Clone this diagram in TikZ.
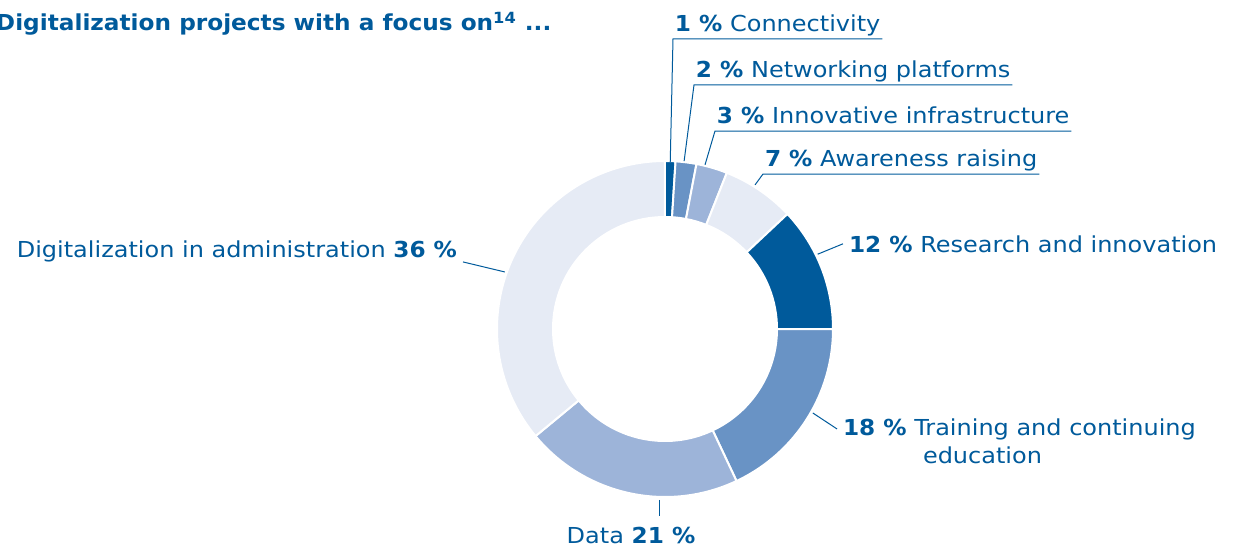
\documentclass[tikz,border=0pt]{standalone}
\usepackage{fontspec}
\setmainfont{DejaVu Sans}[FakeStretch=1.09, BoldFeatures={FakeStretch=1.055}]
\usetikzlibrary{positioning}

\definecolor{txtblue}{HTML}{005A9B}
\definecolor{segdark}{HTML}{005A9B}
\definecolor{segmid}{HTML}{6993C5}
\definecolor{seglight}{HTML}{9DB4D9}
\definecolor{segpale}{HTML}{E6EBF5}

\tikzset{
  seg/.style={draw=white, line width=1pt},
  lbl/.style={text=txtblue, font=\fontsize{11}{13}\selectfont, inner sep=1pt, outer sep=0pt},
  toplbl/.style={lbl, anchor=south west, text depth=2.6pt},
  sidelbl/.style={lbl, inner sep=3pt},
  leader/.style={draw=txtblue, line width=0.5pt},
}

\begin{document}
\begin{tikzpicture}[x=0.5pt, y=0.5pt]
\useasboundingbox (-665,-218) rectangle (572,329);

  % ring
  \fill[segdark, seg] (90:168) arc[start angle=90, end angle=86.4, radius=168] -- (86.4:112) arc[start angle=86.4, end angle=90, radius=112] -- cycle;
  \fill[segmid, seg] (86.4:168) arc[start angle=86.4, end angle=79.2, radius=168] -- (79.2:112) arc[start angle=79.2, end angle=86.4, radius=112] -- cycle;
  \fill[seglight, seg] (79.2:168) arc[start angle=79.2, end angle=68.4, radius=168] -- (68.4:112) arc[start angle=68.4, end angle=79.2, radius=112] -- cycle;
  \fill[segpale, seg] (68.4:168) arc[start angle=68.4, end angle=43.2, radius=168] -- (43.2:112) arc[start angle=43.2, end angle=68.4, radius=112] -- cycle;
  \fill[segdark, seg] (43.2:168) arc[start angle=43.2, end angle=0, radius=168] -- (0:112) arc[start angle=0, end angle=43.2, radius=112] -- cycle;
  \fill[segmid, seg] (0:168) arc[start angle=0, end angle=-64.8, radius=168] -- (-64.8:112) arc[start angle=-64.8, end angle=0, radius=112] -- cycle;
  \fill[seglight, seg] (-64.8:168) arc[start angle=-64.8, end angle=-140.4, radius=168] -- (-140.4:112) arc[start angle=-140.4, end angle=-64.8, radius=112] -- cycle;
  \fill[segpale, seg] (-140.4:168) arc[start angle=-140.4, end angle=-270, radius=168] -- (-270:112) arc[start angle=-270, end angle=-140.4, radius=112] -- cycle;

  % leader ends on the ring
  \coordinate (pConn) at (88.2:167);
  \coordinate (pNet) at (83.5:169);
  \coordinate (pInn) at (76.3:169);
  \coordinate (pAwa) at (58:170);
  \coordinate (pRes) at (26.1:170);
  \coordinate (pTra) at (-29.6:170);
  \coordinate (pDat) at (-92:171);
  \coordinate (pAdm) at (160.4:170);

  % title
  \node [lbl, anchor=base west, font=\fontsize{11}{13}\selectfont\bfseries] (title) at (-671,298) {Digitalization projects with a focus on\textsuperscript{14} ...};

  % labels
  \node [toplbl] (lConn) at (8,290) {\textbf{1 \%} Connectivity};
  \node [toplbl] (lNet) at (29,244) {\textbf{2 \%} Networking platforms};
  \node [toplbl] (lInn) at (50,198) {\textbf{3 \%} Innovative infrastructure};
  \node [toplbl] (lAwa) at (98,155) {\textbf{7 \%} Awareness raising};

  \node [sidelbl, anchor=base west] (lRes) at (178,77) {\textbf{12 \%} Research and innovation};
  \node [sidelbl, anchor=base west] (lTra) at (172,-106) {\textbf{18 \%} Training and continuing};
  \node [sidelbl, anchor=base west] (lTraB) at (252,-134) {education};
  \node [sidelbl, anchor=base, inner ysep=5.5pt] (lDat) at (-34,-214) {Data \textbf{21 \%}};
  \node [sidelbl, anchor=base east] (lAdm) at (-202,72) {Digitalization in administration \textbf{36 \%}};

  % leaders
  \draw [leader] (pConn) -- (lConn.south west) -- (lConn.south east);
  \draw [leader] (pNet) -- (lNet.south west) -- (lNet.south east);
  \draw [leader] (pInn) -- (lInn.south west) -- (lInn.south east);
  \draw [leader] (pAwa) -- (lAwa.south west) -- (lAwa.south east);
  \draw [leader] (pRes) -- (lRes.west);
  \draw [leader] (pTra) -- (lTra.west);
  \draw [leader] (pDat) -- (pDat |- lDat.north);
  \draw [leader] (pAdm) -- ([yshift=-5.5pt]lAdm.east);
\end{tikzpicture}
\end{document}
